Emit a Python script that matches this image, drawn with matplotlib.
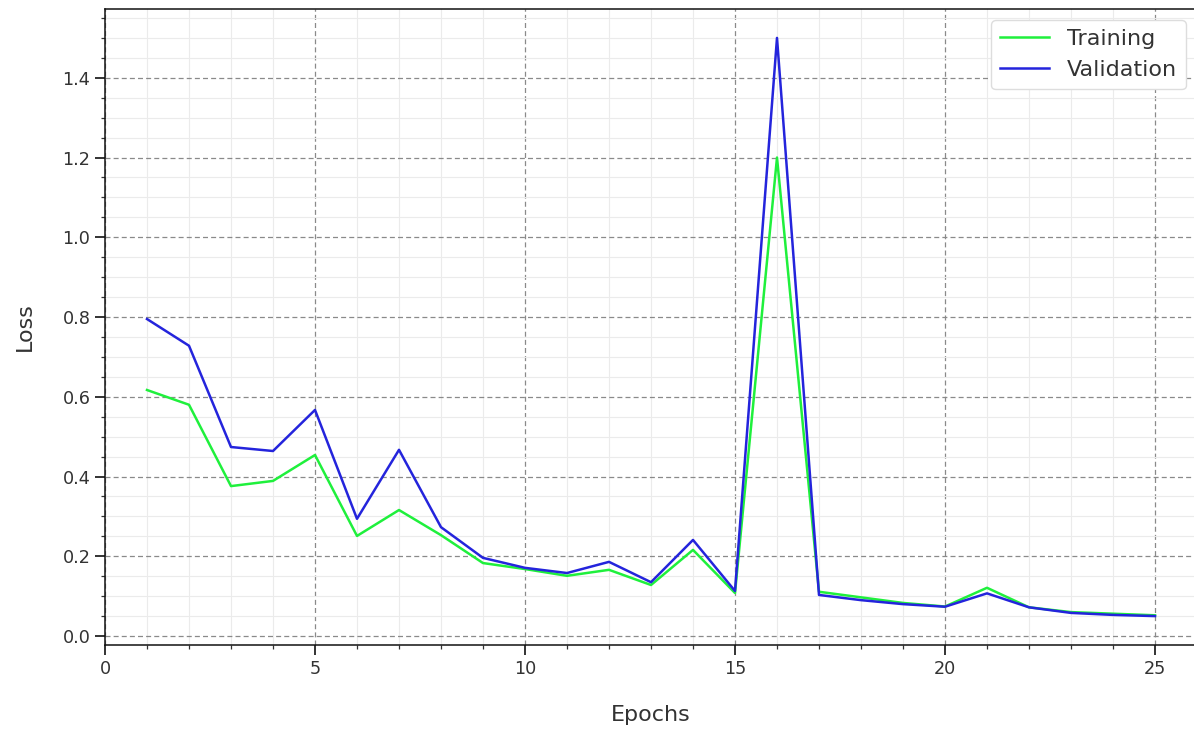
import matplotlib
matplotlib.use("Agg")
import matplotlib.pyplot as plt
from matplotlib.ticker import MultipleLocator

epochs = list(range(1, 26))
train_loss = [0.617, 0.580, 0.376, 0.389, 0.454, 0.251, 0.316, 0.253, 0.183, 0.168,
              0.151, 0.166, 0.128, 0.216, 0.108, 1.200, 0.111, 0.097, 0.083, 0.074,
              0.121, 0.072, 0.060, 0.056, 0.052]
val_loss = [0.795, 0.728, 0.474, 0.464, 0.567, 0.294, 0.467, 0.273, 0.196, 0.171,
            0.158, 0.186, 0.135, 0.241, 0.113, 1.500, 0.103, 0.090, 0.080, 0.0735,
            0.107, 0.072, 0.058, 0.053, 0.050]

plt.rcParams['font.family'] = ['DejaVu Sans']

fig = plt.figure(figsize=(11.94, 7.29), dpi=100)
ax = fig.add_axes([105 / 1194, 1 - 645 / 729, (1197 - 105) / 1194, (645 - 9) / 729])

ax.plot(epochs, train_loss, color='#1ff03c', lw=1.8, label='Training')
ax.plot(epochs, val_loss, color='#2424dc', lw=1.8, label='Validation')

ax.set_xlim(0, 26)
ax.xaxis.set_major_locator(MultipleLocator(5))
ax.xaxis.set_minor_locator(MultipleLocator(1))
ax.yaxis.set_major_locator(MultipleLocator(0.2))
ax.yaxis.set_minor_locator(MultipleLocator(0.05))

ax.grid(which='major', color='#8a8a8a', linestyle=(0, (4, 2.5)), linewidth=0.9)
ax.grid(which='minor', color='#ebebeb', linestyle='-', linewidth=0.8)
ax.set_axisbelow(True)

ax.tick_params(which='major', length=7, width=1.4, labelsize=12.7, colors='#333333',
               direction='out')
ax.tick_params(which='minor', length=3, width=0.9, colors='#333333')
for s in ax.spines.values():
    s.set_linewidth(1.1)
    s.set_color('#111111')

ax.set_xlabel('Epochs', fontsize=16, color='#333333', labelpad=20)
ax.set_ylabel('Loss', fontsize=16, color='#333333', labelpad=20)

leg = ax.legend(loc='upper right', fontsize=16, handlelength=2.2, frameon=True,
                fancybox=True, edgecolor='#dddddd', framealpha=1.0)
for t in leg.get_texts():
    t.set_color('#333333')

fig.savefig('out.png', dpi=100)
